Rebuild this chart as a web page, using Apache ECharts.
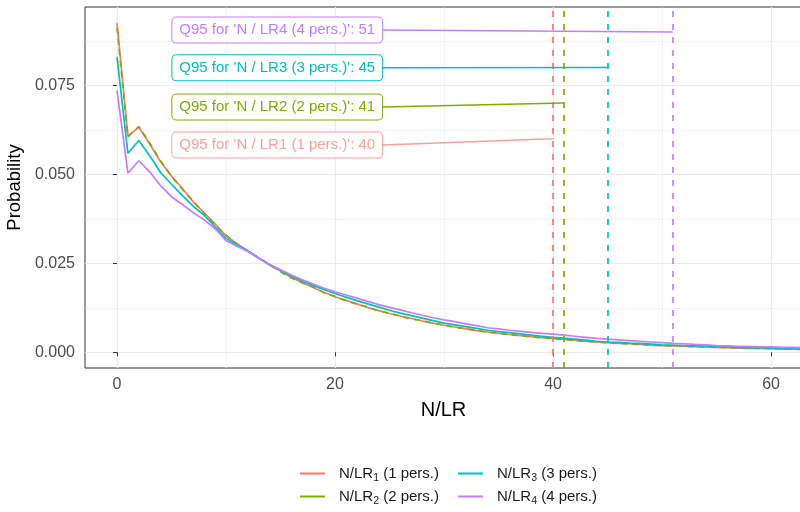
<!DOCTYPE html>
<html>
<head>
<meta charset="utf-8">
<script src="https://cdn.jsdelivr.net/npm/echarts@6/dist/echarts.min.js"></script>
<style>
  html, body { margin: 0; padding: 0; background: #fff; }
  #chart { width: 800px; height: 512px; }
</style>
</head>
<body>
<div id="chart"></div>
<script>
// x = N/LR value, y = probability
const xs = Array.from({ length: 64 }, (_, i) => i);

const lr1 = [0.0925, 0.0608, 0.0632, 0.0585, 0.0535, 0.0495, 0.0460, 0.0422, 0.0392, 0.0360,
  0.0327, 0.0305, 0.0285, 0.0265, 0.0245, 0.0228, 0.0210, 0.0196, 0.0182, 0.0168,
  0.0156, 0.0146, 0.0136, 0.0126, 0.0117, 0.0109, 0.0102, 0.0095, 0.0088, 0.0082,
  0.0076, 0.0071, 0.0066, 0.0061, 0.0057, 0.0053, 0.0050, 0.0047, 0.0044, 0.0041,
  0.0039, 0.0036, 0.0034, 0.0031, 0.0029, 0.0027, 0.0025, 0.0024, 0.0022, 0.0021,
  0.0019, 0.0018, 0.0017, 0.0016, 0.0015, 0.0014, 0.0013, 0.0012, 0.0011, 0.0011,
  0.0010, 0.0009, 0.0009, 0.0008];
const lr2 = [0.0912, 0.0605, 0.0634, 0.0588, 0.0538, 0.0494, 0.0458, 0.0425, 0.0390, 0.0358,
  0.0329, 0.0304, 0.0283, 0.0266, 0.0246, 0.0226, 0.0209, 0.0195, 0.0183, 0.0167,
  0.0157, 0.0145, 0.0135, 0.0127, 0.0116, 0.0110, 0.0101, 0.0094, 0.0089, 0.0081,
  0.0077, 0.0070, 0.0066, 0.0062, 0.0056, 0.0054, 0.0049, 0.0047, 0.0043, 0.0041,
  0.0038, 0.0036, 0.0033, 0.0031, 0.0029, 0.0027, 0.0026, 0.0023, 0.0022, 0.0020,
  0.0019, 0.0018, 0.0017, 0.0016, 0.0015, 0.0014, 0.0013, 0.0012, 0.0012, 0.0011,
  0.0010, 0.0010, 0.0009, 0.0008];
const lr3 = [0.0830, 0.0559, 0.0595, 0.0552, 0.0505, 0.0472, 0.0440, 0.0410, 0.0385, 0.0352,
  0.0320, 0.0302, 0.0285, 0.0265, 0.0246, 0.0230, 0.0214, 0.0200, 0.0188, 0.0176,
  0.0165, 0.0155, 0.0145, 0.0136, 0.0127, 0.0118, 0.0110, 0.0103, 0.0096, 0.0089,
  0.0082, 0.0077, 0.0072, 0.0067, 0.0062, 0.0058, 0.0055, 0.0052, 0.0048, 0.0045,
  0.0042, 0.0040, 0.0037, 0.0034, 0.0031, 0.0029, 0.0028, 0.0026, 0.0025, 0.0023,
  0.0021, 0.0020, 0.0019, 0.0018, 0.0017, 0.0016, 0.0015, 0.0014, 0.0013, 0.0013,
  0.0012, 0.0011, 0.0011, 0.0010];
const lr4 = [0.0735, 0.0503, 0.0538, 0.0507, 0.0468, 0.0437, 0.0415, 0.0392, 0.0372, 0.0347,
  0.0314, 0.0298, 0.0283, 0.0264, 0.0247, 0.0232, 0.0217, 0.0204, 0.0192, 0.0180,
  0.0170, 0.0161, 0.0152, 0.0143, 0.0134, 0.0126, 0.0119, 0.0111, 0.0104, 0.0097,
  0.0091, 0.0086, 0.0080, 0.0075, 0.0069, 0.0066, 0.0062, 0.0059, 0.0056, 0.0053,
  0.0051, 0.0048, 0.0045, 0.0042, 0.0039, 0.0037, 0.0035, 0.0033, 0.0031, 0.0029,
  0.0027, 0.0025, 0.0024, 0.0022, 0.0021, 0.0019, 0.0018, 0.0017, 0.0016, 0.0015,
  0.0015, 0.0014, 0.0014, 0.0013];

const seriesNames = ['N/LR1 (1 pers.)', 'N/LR2 (2 pers.)', 'N/LR3 (3 pers.)', 'N/LR4 (4 pers.)'];
const labelNames = ['N / LR1 (1 pers.)', 'N / LR2 (2 pers.)', 'N / LR3 (3 pers.)', 'N / LR4 (4 pers.)'];
const q95 = [40, 41, 45, 51];
const q95Y = [0.060, 0.070, 0.080, 0.090];     // where each label's leader meets its Q95 line
const labelY = [0.0582, 0.0689, 0.0799, 0.0905]; // label centres (data units)
const labelX = 14.7;
const labelEdgeX = 24.38;

const xTicks = [0, 20, 40, 60];
const xMinor = [10, 30, 50];
const yTicks = [0, 0.025, 0.05, 0.075];
const yMinor = [0.0125, 0.0375, 0.0625, 0.0875];

const colors = ['#F8766D', '#7CAE00', '#00BFC4', '#C77CFF'];
const labelColors = ['rgba(248,118,109,0.7)', '#7CAE00', '#00BFC4', '#C77CFF'];
const FONT = 'Liberation Sans, Arial, sans-serif';

const chart = echarts.init(document.getElementById('chart'), null, { renderer: 'canvas' });

const allData = [lr1, lr2, lr3, lr4];

const series = allData.map((vals, i) => ({
  name: seriesNames[i],
  type: 'line',
  data: vals.map((v, j) => [xs[j], v]),
  symbol: 'none',
  lineStyle: { color: colors[i], width: 1.7, type: i === 1 ? [6, 5] : 'solid' },
  itemStyle: { color: colors[i] },
  emphasis: { disabled: true },
  z: 3,
  markLine: {
    silent: true,
    symbol: 'none',
    animation: false,
    label: { show: false },
    emphasis: { disabled: true },
    data: [
      { xAxis: q95[i], lineStyle: { color: colors[i], width: 1.7, type: [6, 7] } },
      [
        { coord: [labelEdgeX, labelY[i]], lineStyle: { color: labelColors[i], width: 1.5, type: 'solid' } },
        { coord: [q95[i], q95Y[i]] }
      ]
    ]
  },
  markPoint: {
    silent: true,
    symbol: 'rect',
    symbolSize: 1,
    itemStyle: { color: 'rgba(0,0,0,0)' },
    animation: false,
    data: [{ coord: [labelX, labelY[i]], value: q95[i] }],
    label: {
      show: true,
      position: 'inside',
      formatter: () => "Q95 for '" + labelNames[i] + "': " + q95[i],
      color: labelColors[i],
      fontFamily: FONT,
      fontSize: 15,
      lineHeight: 16,
      backgroundColor: '#fff',
      borderColor: labelColors[i],
      borderWidth: 1,
      borderRadius: 4,
      padding: [5, 7, 4, 7]
    }
  }
}));

const legendText = {
  fontFamily: FONT,
  fontSize: 15,
  color: '#1a1a1a',
  padding: [0, 0, 0, 9],
  rich: {
    a: { fontFamily: FONT, fontSize: 15, color: '#1a1a1a' },
    s: { fontFamily: FONT, fontSize: 10.5, color: '#1a1a1a', padding: [9, 0, 0, 0] }
  }
};
const legendFmt = name => {
  const m = name.match(/^N\/LR(\d) (.*)$/);
  return '{a|N/LR}{s|' + m[1] + '}{a| ' + m[2] + '}';
};
const legendBase = {
  orient: 'vertical',
  top: 466,
  padding: 0,
  itemWidth: 25,
  itemHeight: 18,
  itemGap: 5.5,
  icon: 'path://M0,8 L25,8 L25,10 L0,10 Z',
  selectedMode: false,
  textStyle: legendText,
  formatter: legendFmt
};

chart.setOption({
  animation: false,
  backgroundColor: '#fff',
  grid: {
    left: 85, top: 7, right: -2, bottom: 144,
    containLabel: false,
    outerBoundsMode: 'none',
    show: true, borderColor: '#333333', borderWidth: 1, backgroundColor: '#fff'
  },
  legend: [
    Object.assign({}, legendBase, { left: 300, data: [seriesNames[0], seriesNames[1]] }),
    Object.assign({}, legendBase, { left: 458, data: [seriesNames[2], seriesNames[3]] })
  ],
  xAxis: [
    {
      type: 'value',
      min: -2.936, max: 62.84,
      name: 'N/LR',
      nameLocation: 'middle',
      nameGap: 32,
      nameTextStyle: { fontFamily: FONT, fontSize: 20, color: '#000' },
      axisLine: { show: false },
      axisTick: { show: true, customValues: xTicks, length: 4, lineStyle: { color: '#333333', width: 1 } },
      axisLabel: { customValues: xTicks, margin: 9, fontFamily: FONT, fontSize: 16, color: '#4D4D4D' },
      splitLine: { show: true, lineStyle: { color: '#EBEBEB', width: 1.2 } }
    },
    {
      type: 'value',
      min: -2.936, max: 62.84,
      position: 'top',
      axisLine: { show: false },
      axisTick: { show: false, customValues: xMinor },
      axisLabel: { show: false, customValues: xMinor },
      splitLine: { show: true, lineStyle: { color: '#EBEBEB', width: 0.6 } }
    }
  ],
  yAxis: [
    {
      type: 'value',
      min: -0.00441, max: 0.09699,
      name: 'Probability',
      nameLocation: 'middle',
      nameGap: 56,
      nameTextStyle: { fontFamily: FONT, fontSize: 18.5, color: '#000' },
      axisLine: { show: false },
      axisTick: { show: true, customValues: yTicks, length: 4, lineStyle: { color: '#333333', width: 1 } },
      axisLabel: {
        customValues: yTicks, margin: 10, fontFamily: FONT, fontSize: 16, color: '#4D4D4D',
        formatter: v => v.toFixed(3)
      },
      splitLine: { show: true, lineStyle: { color: '#EBEBEB', width: 1.2 } }
    },
    {
      type: 'value',
      min: -0.00441, max: 0.09699,
      position: 'right',
      axisLine: { show: false },
      axisTick: { show: false, customValues: yMinor },
      axisLabel: { show: false, customValues: yMinor },
      splitLine: { show: true, lineStyle: { color: '#EBEBEB', width: 0.6 } }
    }
  ],
  series
});
</script>
</body>
</html>
